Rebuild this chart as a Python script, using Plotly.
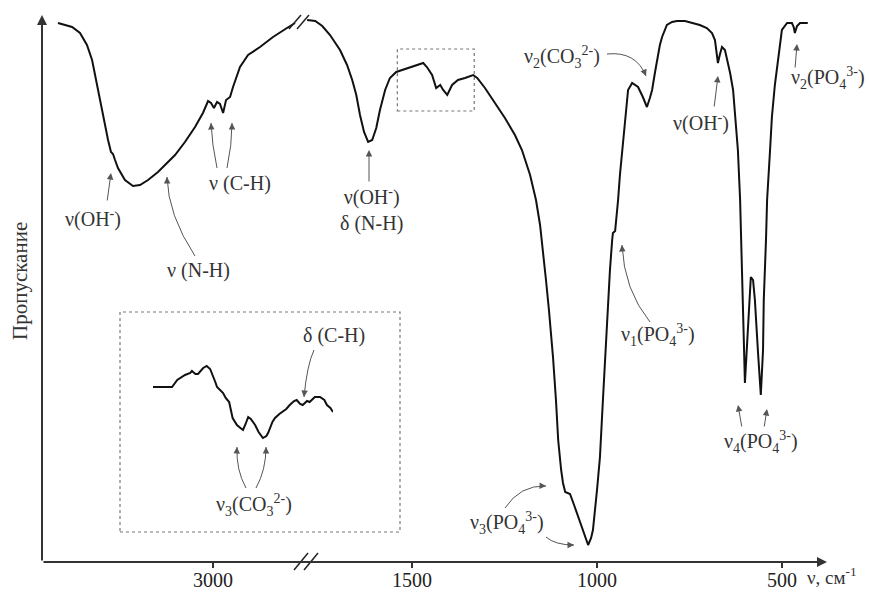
import plotly.graph_objects as go

W, H = 869, 594
ML, MR, MT, MB = 42, 42, 15, 32
PW = W - ML - MR
PH = H - MT - MB

SERIF = "Liberation Serif"
TXT = "#333333"
ARC = "#555555"
FS = 20

# ---------------- data (wavenumber, cm-1 ; transmittance, a.u.) ----------------
wn_high = [4000, 3909, 3858, 3813, 3780, 3755, 3729, 3703, 3677, 3658, 3645, 3632, 3613,
           3568, 3516, 3471, 3419, 3355, 3310, 3245, 3181, 3116, 3065, 3032, 3013, 2994,
           2974, 2955, 2935, 2916, 2890, 2871, 2826, 2774, 2697, 2613, 2523, 2471]
t_high = [539, 535, 529, 517, 502, 482, 462, 442, 422, 410, 408, 402, 394,
          382, 376, 377, 382, 390, 397, 407, 420, 435, 449, 461, 459, 454,
          460, 458, 449, 462, 465, 475, 495, 507, 515, 525, 534, 539]

wn_low = [1784, 1762, 1743, 1722, 1695, 1676, 1662, 1651, 1641, 1630, 1619, 1608, 1597,
          1587, 1573, 1560, 1543, 1527, 1505, 1484, 1470, 1460, 1446, 1435, 1424, 1416,
          1405, 1392, 1376, 1357, 1335, 1324, 1303, 1276, 1249, 1222, 1203, 1181, 1165,
          1154, 1146, 1138, 1130, 1119, 1111, 1105, 1097, 1092, 1086, 1073, 1062, 1051,
          1038, 1024, 1016, 1011, 1000, 992, 984, 978, 973, 970, 965, 959, 957, 951,
          946, 943, 938, 932, 924, 916, 905, 889, 876, 865, 857, 851, 843, 838, 830,
          824, 811, 797, 784, 762, 741, 722, 703, 689, 681, 676, 673, 668, 662, 654,
          646, 640, 632, 627, 619, 613, 608, 605, 603, 600, 595, 589, 586, 584, 578,
          573, 565, 557, 551, 549, 543, 540, 532, 527, 519, 513, 505, 500, 486, 473,
          468, 465, 459, 451, 430]
t_low = [542, 541, 536, 527, 512, 497, 482, 467, 447, 430, 420, 422, 434,
         452, 472, 484, 490, 492, 495, 498, 499, 495, 487, 474, 477, 472,
         467, 477, 482, 484, 487, 484, 474, 459, 444, 427, 412, 387, 362,
         337, 312, 282, 252, 205, 162, 122, 92, 79, 70, 68, 57, 45,
         30, 17, 24, 32, 72, 105, 162, 205, 242, 262, 292, 322, 329, 331,
         347, 362, 387, 412, 445, 472, 479, 475, 465, 455, 464, 472, 490, 502, 517,
         525, 537, 540, 541, 541, 539, 537, 534, 529, 522, 510, 499, 507, 515, 512,
         500, 489, 472, 452, 412, 362, 302, 262, 222, 179, 212, 252, 277, 285, 282,
         262, 212, 167, 212, 262, 322, 362, 412, 445, 477, 495, 520, 532, 539, 539,
         535, 529, 536, 539, 539]

# inset: enlarged 1540-1332 cm-1 region
wn_inset = [1540, 1518, 1512, 1503, 1497, 1495, 1491, 1488, 1482, 1478, 1474, 1472, 1468,
            1466, 1463, 1459, 1456, 1452, 1448, 1443, 1439, 1436, 1433, 1430, 1427, 1422,
            1418, 1413, 1409, 1407, 1402, 1399, 1394, 1391, 1386, 1382, 1377, 1374, 1370,
            1367, 1362, 1359, 1353, 1347, 1342, 1339, 1335, 1332]
t_inset = [175, 175, 182, 187, 189, 191, 188, 188, 194, 196, 193, 189, 180,
           175, 172, 169, 164, 160, 144, 137, 134, 132, 138, 145, 143, 137,
           130, 124, 126, 129, 140, 144, 148, 150, 153, 157, 161, 162, 158,
           157, 161, 160, 165, 165, 162, 157, 154, 150]

tick_high = [3000]
tick_low = [1500, 1000, 500]
range_high = [4103, 2439]
range_low = [1787, 378]
range_inset = [1540, 1332]


def P(x, y):
    """pixel position -> paper coordinates (decorations only)"""
    return (x - ML) / PW, (H - MB - y) / PH


line_style = dict(color="#111111", width=2)
fig = go.Figure()
fig.add_trace(go.Scatter(x=wn_high, y=t_high, mode="lines", line=line_style,
                         xaxis="x", yaxis="y", showlegend=False, hoverinfo="skip"))
fig.add_trace(go.Scatter(x=wn_low, y=t_low, mode="lines", line=line_style,
                         xaxis="x2", yaxis="y", showlegend=False, hoverinfo="skip"))
fig.add_trace(go.Scatter(x=wn_inset, y=t_inset, mode="lines", line=line_style,
                         xaxis="x3", yaxis="y", showlegend=False, hoverinfo="skip"))

axfont = dict(family=SERIF, size=20, color="#222222")
common_x = dict(showgrid=False, zeroline=False, showline=False, ticks="outside",
                ticklen=5, tickwidth=1.5, tickcolor="#333333", tickfont=axfont, anchor="y",
                automargin=False, ticklabelstandoff=-5)

fig.update_layout(
    template="none",
    width=W, height=H,
    margin=dict(l=ML, r=MR, t=MT, b=MB, autoexpand=False),
    paper_bgcolor="white", plot_bgcolor="rgba(0,0,0,0)",
    font=dict(family=SERIF, color=TXT),
    showlegend=False,
    xaxis=dict(domain=[0, P(300, 0)[0]], range=range_high, tickvals=tick_high,
               ticktext=[str(v) for v in tick_high], **common_x),
    xaxis2=dict(domain=[P(306, 0)[0], 1], range=range_low, tickvals=tick_low,
                ticktext=[str(v) for v in tick_low], **common_x),
    xaxis3=dict(domain=[P(153, 0)[0], P(333, 0)[0]], range=range_inset, visible=False,
                anchor="y", automargin=False),
    yaxis=dict(domain=[0, 1], range=[0, PH], visible=False, automargin=False),
)

annotations = []
shapes = []


def label(text, x, y, size=FS, angle=0):
    px, py = P(x, y)
    annotations.append(dict(x=px, y=py, xref="paper", yref="paper", text=text, showarrow=False,
                            xanchor="center", yanchor="middle",
                            textangle=angle, font=dict(family=SERIF, size=size, color=TXT)))


def arrow(x0, y0, x1, y1):
    px, py = P(x1, y1)
    annotations.append(dict(x=px, y=py, xref="paper", yref="paper", ax=x0 - x1, ay=y0 - y1,
                            text="", showarrow=True, arrowhead=2, arrowsize=1.3, arrowwidth=1,
                            arrowcolor=ARC))


def curve(x0, y0, cx, cy, x1, y1):
    a, c, b = P(x0, y0), P(cx, cy), P(x1, y1)
    shapes.append(dict(type="path", xref="paper", yref="paper",
                       path=f"M {a[0]},{a[1]} Q {c[0]},{c[1]} {b[0]},{b[1]}",
                       line=dict(color=ARC, width=1)))
    dx, dy = cx - x1, cy - y1
    n = (dx * dx + dy * dy) ** 0.5
    annotations.append(dict(x=b[0], y=b[1], xref="paper", yref="paper", ax=dx / n * 6, ay=dy / n * 6,
                            text="", showarrow=True, arrowhead=2, arrowsize=1.3, arrowwidth=1,
                            arrowcolor=ARC))


def seg(x0, y0, x1, y1, color="#222222", width=1.5):
    a, b = P(x0, y0), P(x1, y1)
    shapes.append(dict(type="line", xref="paper", yref="paper", x0=a[0], y0=a[1], x1=b[0], y1=b[1],
                       line=dict(color=color, width=width)))


# axes with arrows
annotations.append(dict(x=0, y=1, xref="paper", yref="paper", ax=0, ay=PH, text="", showarrow=True,
                        arrowhead=2, arrowsize=1, arrowwidth=2, arrowcolor="#333333"))
annotations.append(dict(x=1, y=0, xref="paper", yref="paper", ax=-PW, ay=0, text="", showarrow=True,
                        arrowhead=2, arrowsize=1, arrowwidth=2, arrowcolor="#333333"))

# axis break marks
seg(294, 570, 308, 553)
seg(304, 570, 318, 553)
# curve break marks
seg(289, 29, 301, 15)
seg(297, 29, 309, 15)

# dashed boxes
shapes.append(dict(type="rect", xref="x2", yref="y", x0=range_inset[0], x1=range_inset[1],
                   y0=451, y1=513, line=dict(color="#777777", width=1.2, dash="3px,3px")))
b0, b1 = P(120, 532), P(400, 312)
shapes.append(dict(type="rect", xref="paper", yref="paper", x0=b0[0], x1=b1[0], y0=b0[1], y1=b1[1],
                   line=dict(color="#777777", width=1.2, dash="3px,3px")))

# axis titles
label("Пропускание", 20, 281, size=21, angle=-90)
label("ν, см<sup>-1</sup>", 832, 576, size=19)

# band labels
label("ν(OH<sup>-</sup>)", 93, 219)
arrow(107, 202, 111, 173)
label("ν (N-H)", 198, 270)
curve(195, 256, 168, 215, 167, 177)
label("ν (C-H)", 240, 183)
curve(217, 168, 212, 145, 211, 123)
curve(227, 168, 232, 145, 232, 123)
label("ν(OH<sup>-</sup>)<br>δ (N-H)", 371, 210)
arrow(369, 183, 369, 150)
label("ν<sub>2</sub>(CO<sub>3</sub><sup>2-</sup>)", 562, 57)
curve(607, 54, 636, 51, 646, 76)
label("ν(OH<sup>-</sup>)", 701, 122)
arrow(714, 108, 718, 76)
label("ν<sub>2</sub>(PO<sub>4</sub><sup>3-</sup>)", 828, 78)
arrow(795, 69, 797, 44)
label("ν<sub>1</sub>(PO<sub>4</sub><sup>3-</sup>)", 658, 335)
curve(650, 322, 624, 290, 622, 245)
label("ν<sub>4</sub>(PO<sub>4</sub><sup>3-</sup>)", 761, 442)
arrow(742, 428, 738, 405)
arrow(764, 428, 767, 409)
label("ν<sub>3</sub>(PO<sub>4</sub><sup>3-</sup>)", 507, 523)
curve(505, 508, 520, 485, 546, 486)
curve(546, 537, 555, 545, 574, 545)
label("δ (C-H)", 334, 335)
curve(314, 350, 307, 365, 304, 397)
label("ν<sub>3</sub>(CO<sub>3</sub><sup>2-</sup>)", 254, 505)
curve(246, 488, 236, 470, 237, 447)
curve(256, 488, 266, 470, 266, 447)

fig.update_layout(annotations=annotations, shapes=shapes)
# remove the default 8 px page margin so the figure sits at the window corner
fig.write_html("out.html", config={"displayModeBar": False},
               post_script="document.body.style.margin='0';")
